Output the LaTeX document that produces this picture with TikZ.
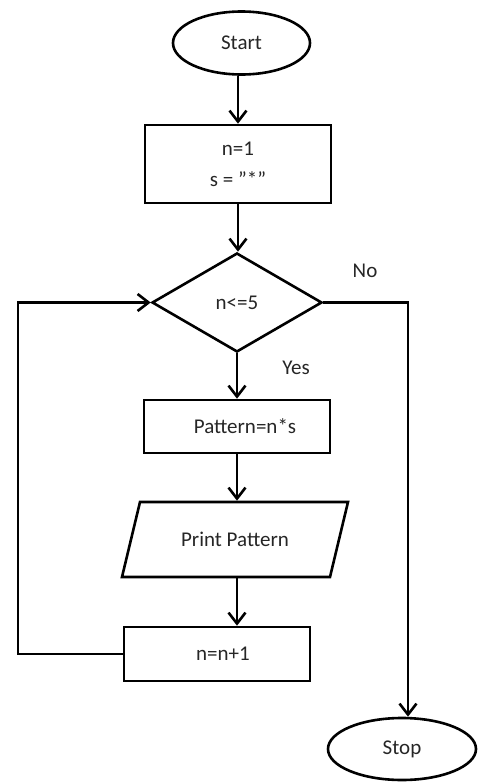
\documentclass[tikz,border=0pt]{standalone}
\usepackage{fontspec}
\setmainfont{Carlito}
\usetikzlibrary{shapes.geometric,arrows.meta}
\begin{document}
\begin{tikzpicture}[x=1pt,y=-1pt,
  line width=2.6pt,
  every node/.style={font=\fontsize{21}{25}\selectfont, inner sep=0pt, text=black!85},
  term/.style={draw=black, ellipse, minimum width=137pt, minimum height=63pt},
  proc/.style={draw=black, rectangle, minimum width=186pt},
  dec/.style={draw=black, diamond, minimum width=170pt, minimum height=99pt},
  arr/.style={-{Straight Barb[length=11pt,width=17pt]}}]
\useasboundingbox (0,0) rectangle (487,782);
\coordinate (loopx) at (18,0);
\coordinate (nox) at (408,0);
\node[term] (start) at (241.5,43) {Start};
\node[proc, minimum height=78pt, align=center] (init) at (238,164) {n=1\\[6pt]s = \symbol{34}*\symbol{34}};
\node[dec] (cond) at (237,302.5) {n<=5};
\node[proc, minimum height=53pt] (pat) at (237,426.5) {\hspace*{16pt}Pattern=n*s};
\node[minimum width=190pt, minimum height=75pt] (out) at (235,539.5) {Print Pattern};
\draw (140,502) -- (348,502) -- (330,577) -- (122,577) -- cycle;
\node[proc, minimum height=54pt] (inc) at (217,654) {\hspace*{12pt}n=n+1};
\node[term, minimum width=148pt, minimum height=62pt] (stop) at (402,749) {Stop};
\node (no) at (365,271) {No};
\node (yes) at (296,368) {Yes};
\draw[arr] (start.south -| init.north) -- (init.north);
\draw[arr] (init.south) -- (init.south |- cond.north);
\draw[arr] (cond.south) -- (cond.south |- pat.north);
\draw[arr] (pat.south) -- (pat.south |- out.north);
\draw[arr] (pat.south |- out.south) -- (pat.south |- inc.north);
\draw[arr] (inc.west) -- (inc.west -| loopx) |- (cond.west);
\draw[arr] (cond.east) -- (cond.east -| nox) -- (nox |- stop.north);
\end{tikzpicture}
\end{document}
